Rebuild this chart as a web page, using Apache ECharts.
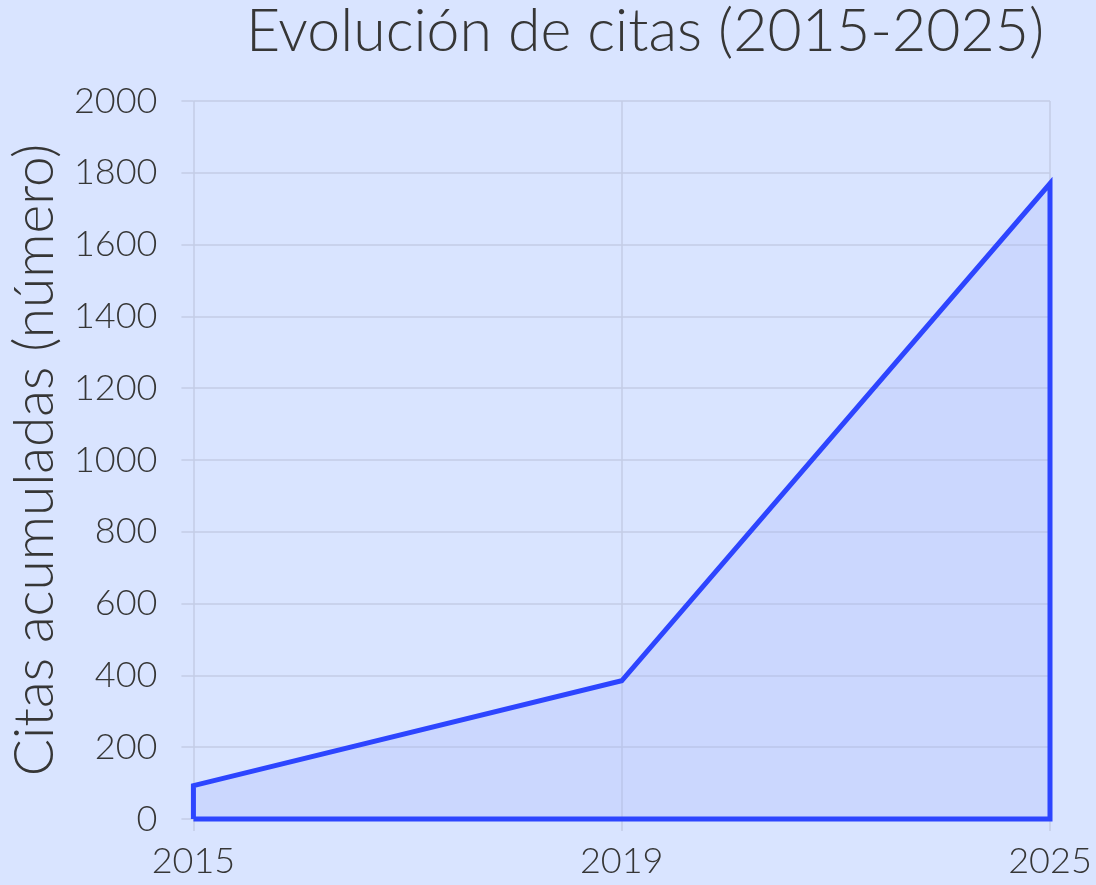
<!DOCTYPE html>
<html><head><meta charset="utf-8">
<script src="https://cdn.jsdelivr.net/npm/echarts@6/dist/echarts.min.js"></script>
<style>html,body{margin:0;padding:0;background:#D9E4FF;}#c{width:1096px;height:885px;}</style>
</head><body><div id="c"></div>
<script>
const categories = ['2015', '2019', '2025'];
const citas = [93, 385, 1770];
const yTicks = [0, 200, 400, 600, 800, 1000, 1200, 1400, 1600, 1800, 2000];
const titleText = 'Evolución de citas (2015-2025)';
const yName = 'Citas acumuladas (número)';

const poly = [[0, 0]];
categories.forEach((c, i) => poly.push([i, citas[i]]));
poly.push([categories.length - 1, 0]);
poly.push([0, 0]);

const FONT = 'Lato';
const TXT = '#363636';
const GRID = '#C3CCE6';
const chart = echarts.init(document.getElementById('c'), null, {renderer: 'canvas'});
chart.setOption({
  backgroundColor: '#D9E4FF',
  animation: false,
  title: {
    text: titleText, left: 640, top: -3, textAlign: 'center',
    textStyle: {fontFamily: FONT, fontSize: 59, fontWeight: 300, color: TXT}
  },
  grid: {left: 190, right: 46, top: 101, bottom: 66, containLabel: false},
  xAxis: {
    type: 'value', min: 0, max: categories.length - 1, interval: 1,
    axisLine: {show: false},
    axisTick: {show: true, length: 12, lineStyle: {color: GRID, width: 1.5}},
    splitLine: {show: true, lineStyle: {color: GRID, width: 1.5}},
    axisLabel: {formatter: v => categories[v] ?? '', fontFamily: FONT, fontSize: 36, fontWeight: 300, color: TXT, margin: 24}
  },
  yAxis: {
    type: 'value', min: yTicks[0], max: yTicks[yTicks.length - 1], interval: 200,
    name: yName, nameLocation: 'middle', nameRotate: 90, nameGap: 128,
    nameTextStyle: {fontFamily: FONT, fontSize: 55, fontWeight: 300, color: TXT},
    axisLine: {show: false},
    axisTick: {show: true, length: 12, lineStyle: {color: GRID, width: 1.5}},
    splitLine: {show: true, lineStyle: {color: GRID, width: 1.5}},
    axisLabel: {formatter: v => String(v), fontFamily: FONT, fontSize: 36, fontWeight: 300, color: TXT, margin: 36}
  },
  series: [{
    type: 'line', data: poly, showSymbol: false, symbol: 'none', clip: false,
    lineStyle: {color: '#2D45FF', width: 5, join: 'miter'},
    areaStyle: {color: 'rgba(160,176,250,0.35)', origin: 'start'},
    z: 3
  }]
});
</script></body></html>
